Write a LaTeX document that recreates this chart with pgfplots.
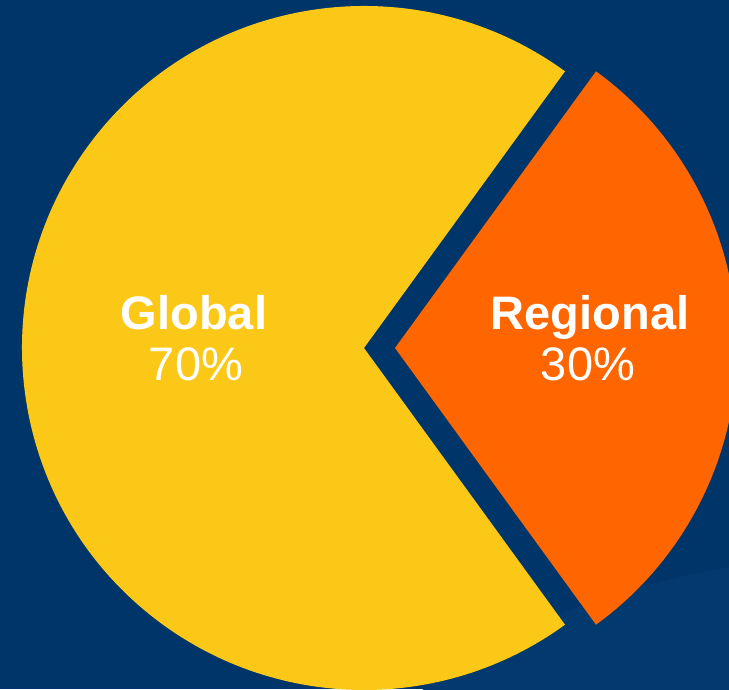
\documentclass[border=0pt]{standalone}
\usepackage{pgfplots}
\usepackage{pgfplotstable}
\pgfplotsset{compat=1.18}
\usepackage{fontspec}
\setmainfont{Liberation Sans}

\definecolor{navy}{RGB}{0,53,106}
\definecolor{navylight}{RGB}{2,57,110}
\definecolor{pieyellow}{RGB}{252,200,23}
\definecolor{pieorange}{RGB}{255,102,0}

% share of each slice, in percent
\pgfplotstableread{
label    value
Global   70
Regional 30
}\piedata

\begin{document}
\begin{tikzpicture}
\pgfplotstablegetelem{0}{value}\of\piedata \let\vglobal\pgfplotsretval
\pgfplotstablegetelem{1}{value}\of\piedata \let\vregional\pgfplotsretval
\pgfmathsetmacro{\half}{\vregional*3.6/2}   % regional slice is centred on 0 deg
\pgfmathsetmacro{\gend}{360-\half}

\begin{axis}[
  x=1pt, y=1pt,
  xmin=0, xmax=729, ymin=0, ymax=689,
  scale only axis,
  hide axis,
  axis background/.style={fill=navy},
  disabledatascaling,
]
% faint shadow lower right
\fill[navylight] (axis cs:900,-211) ellipse [x radius=600, y radius=347];

% Global slice
\fill[pieyellow] (axis cs:364,341) -- ++(\half:342pt)
  arc[start angle=\half, end angle=\gend, radius=342pt] -- cycle;
% Regional slice, pulled out to the right
\fill[pieorange] (axis cs:395,341) -- ++(-\half:342pt)
  arc[start angle=-\half, end angle=\half, radius=342pt] -- cycle;

\node[text=white, anchor=base, inner sep=0pt, font=\fontsize{47}{52}\selectfont\bfseries]
  at (axis cs:194,359) {Global};
\node[text=white, anchor=base, inner sep=0pt, font=\fontsize{47}{52}\selectfont]
  at (axis cs:196,308) {\vglobal\%};
\node[text=white, anchor=base, inner sep=0pt, font=\fontsize{47}{52}\selectfont\bfseries]
  at (axis cs:590,359) {Regional};
\node[text=white, anchor=base, inner sep=0pt, font=\fontsize{47}{52}\selectfont]
  at (axis cs:588,308) {\vregional\%};
\end{axis}
\pgfresetboundingbox
\path[use as bounding box] (current axis.south west) rectangle (current axis.north east);
\end{tikzpicture}
\end{document}
